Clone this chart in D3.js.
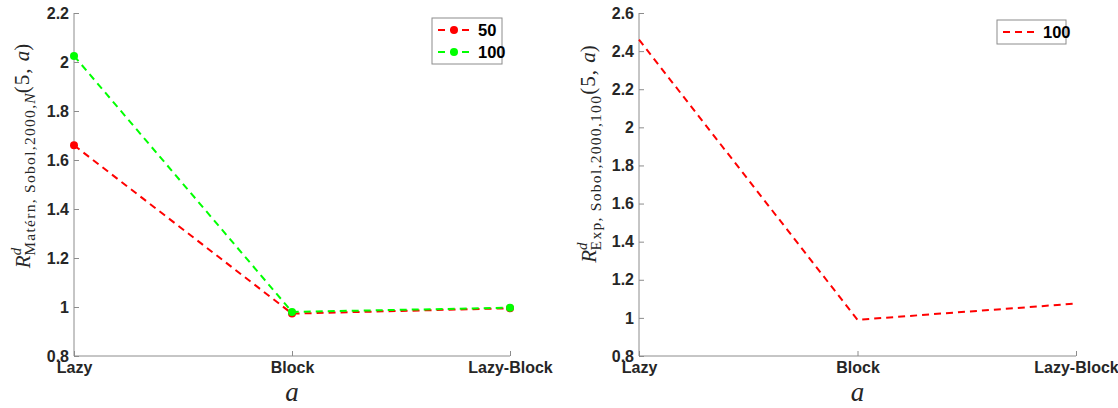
<!DOCTYPE html>
<html>
<head>
<meta charset="utf-8">
<script src="https://cdn.jsdelivr.net/npm/d3@7"></script>
<style>
  body { margin: 0; background: #fff; }
  .tick text { font-family: "Liberation Sans", Arial, sans-serif; font-weight: bold; font-size: 16px; fill: #262626; }
  .domain, .tick line { stroke: #8c8c8c; }
</style>
</head>
<body>
<div id="chart"></div>
<script>
var categories = ["Lazy", "Block", "Lazy-Block"];

// left panel: Matérn, N = 50 and N = 100
var matern50 = [1.66, 0.973, 0.995];
var matern100 = [2.025, 0.98, 0.997];
var leftTicks = [0.8, 1, 1.2, 1.4, 1.6, 1.8, 2, 2.2];

// right panel: Exp, N = 100
var exp100 = [2.46, 0.99, 1.075];
var rightTicks = [0.8, 1, 1.2, 1.4, 1.6, 1.8, 2, 2.2, 2.4, 2.6];

var W = 1118, H = 408;
var svg = d3.select("#chart").append("svg").attr("width", W).attr("height", H);

function panel(opt) {
  var x = d3.scalePoint().domain(categories).range([opt.x0, opt.x1]);
  var y = d3.scaleLinear().domain(opt.ydom).range([356, 13]);

  var gx = svg.append("g").attr("transform", "translate(0,356)")
    .call(d3.axisBottom(x).tickSize(-5).tickPadding(3));
  gx.select(".domain").attr("d", "M" + opt.x0 + ",0H" + opt.x1);
  gx.selectAll(".tick text").attr("dy", "0.9em");

  var gy = svg.append("g").attr("transform", "translate(" + opt.x0 + ",0)")
    .call(d3.axisLeft(y).tickValues(opt.ticks).tickSize(-5).tickPadding(5)
      .tickFormat(function(d) { return d3.format("")(+d.toFixed(1)); }));
  gy.select(".domain").attr("d", "M0,13V356");

  var line = d3.line().x(function(d, i) { return x(categories[i]); }).y(function(d) { return y(d); });

  opt.series.forEach(function(s) {
    svg.append("path").datum(s.values).attr("d", line)
      .attr("fill", "none").attr("stroke", s.color).attr("stroke-width", 2)
      .attr("stroke-dasharray", "7,5");
    if (s.marker) {
      svg.selectAll(null).data(s.values).enter().append("circle")
        .attr("cx", function(d, i) { return x(categories[i]); })
        .attr("cy", function(d) { return y(d); })
        .attr("r", 4).attr("fill", s.color);
    }
  });

  // legend
  var lg = svg.append("g");
  lg.append("rect").attr("x", opt.legend[0]).attr("y", opt.legend[1])
    .attr("width", opt.legend[2]).attr("height", 2 + 22 * opt.series.length)
    .attr("fill", "#fff").attr("stroke", "#8c8c8c");
  opt.series.forEach(function(s, i) {
    var cy = opt.legend[1] + 12 + i * 22;
    var lx = opt.legend[0] + 6;
    lg.append("line").attr("x1", lx).attr("x2", lx + 32).attr("y1", cy).attr("y2", cy)
      .attr("stroke", s.color).attr("stroke-width", 2).attr("stroke-dasharray", "7,5");
    if (s.marker) lg.append("circle").attr("cx", lx + 16).attr("cy", cy).attr("r", 4).attr("fill", s.color);
    lg.append("text").attr("x", lx + 40).attr("y", cy + 6)
      .style("font-family", "Liberation Sans, Arial, sans-serif").style("font-weight", "bold")
      .style("font-size", "16.5px").attr("fill", "#000").text(s.name);
  });

  // x label
  svg.append("text").attr("x", x("Block")).attr("y", 401).attr("text-anchor", "middle")
    .style("font-family", "Liberation Serif, DejaVu Serif, serif").style("font-style", "italic")
    .style("font-size", "27px").attr("fill", "#262626").text("a");

  // y label
  var t = svg.append("text").attr("transform", "translate(" + opt.labelX + "," + opt.labelY + ") rotate(-90)")
    .attr("text-anchor", "middle")
    .style("font-family", "Liberation Serif, DejaVu Serif, serif").style("font-size", "21px").attr("fill", "#262626");
  t.append("tspan").style("font-style", "italic").text("R");
  t.append("tspan").style("font-style", "italic").style("font-size", "15px").attr("dy", -9).text("d");
  t.append("tspan").style("font-size", "15.5px").style("letter-spacing", "1.3px")
    .attr("dx", -8).attr("dy", 14).text(opt.sub);
  if (opt.subItalic) t.append("tspan").style("font-size", "15.5px").style("font-style", "italic").text(opt.subItalic);
  t.append("tspan").attr("dy", -6).style("letter-spacing", "1px").text("(5, ");
  t.append("tspan").style("font-style", "italic").text("a");
  t.append("tspan").text(")");
}

panel({
  x0: 74, x1: 510, ydom: [0.8, 2.2], ticks: leftTicks,
  series: [
    { name: "50", values: matern50, color: "#ff0000", marker: true },
    { name: "100", values: matern100, color: "#00ff00", marker: true }
  ],
  legend: [432, 18, 70],
  labelX: 30, labelY: 156,
  sub: "Matérn, Sobol,2000,", subItalic: "N"
});

panel({
  x0: 639, x1: 1076, ydom: [0.8, 2.6], ticks: rightTicks,
  series: [
    { name: "100", values: exp100, color: "#ff0000", marker: false }
  ],
  legend: [997, 20, 69],
  labelX: 596, labelY: 154,
  sub: "Exp, Sobol,2000,100", subItalic: null
});
</script>
</body>
</html>
